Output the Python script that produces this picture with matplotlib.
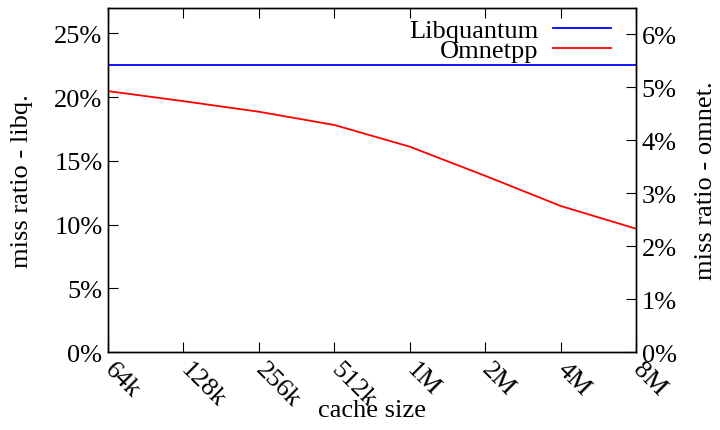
import matplotlib
matplotlib.use("Agg")
import matplotlib.pyplot as plt
from matplotlib.ticker import FuncFormatter

sizes = ["64k", "128k", "256k", "512k", "1M", "2M", "4M", "8M"]
libquantum = [22.5, 22.5, 22.5, 22.5, 22.5, 22.5, 22.5, 22.5]
omnetpp = [4.93, 4.74, 4.54, 4.29, 3.88, 3.33, 2.76, 2.33]

plt.rcParams["font.family"] = ["Liberation Serif", "DejaVu Serif"]
plt.rcParams["font.size"] = 19

fig = plt.figure(figsize=(7.2, 4.31), dpi=100)
ax = fig.add_axes([108 / 720, 1 - 353 / 431, 528 / 720, 344 / 431])
ax2 = ax.twinx()

x = list(range(len(sizes)))
l1, = ax.plot(x, libquantum, color="#0000ff", lw=1.3, label="Libquantum")
l2, = ax2.plot(x, omnetpp, color="#ff0000", lw=1.3, label="Omnetpp")

ax.set_xlim(0, len(sizes) - 1)
ax.set_ylim(0, 27)
ax2.set_ylim(0, 6.5)
ax.set_yticks([0, 5, 10, 15, 20, 25])
ax2.set_yticks([0, 1, 2, 3, 4, 5, 6])
pct = FuncFormatter(lambda v, p: f"{v:.0f}%")
ax.yaxis.set_major_formatter(pct)
ax2.yaxis.set_major_formatter(pct)

ax.set_xticks(x)
ax.set_xticklabels(sizes, rotation=-45, ha="left", va="center", rotation_mode="anchor")
ax.tick_params(axis="x", direction="in", length=7, top=True, pad=10)
ax.tick_params(axis="y", direction="in", length=7, right=False, pad=4)
ax2.tick_params(axis="y", direction="in", length=7, pad=4)

ax.set_xlabel("cache size", labelpad=-9)
ax.set_ylabel("miss ratio - libq.", labelpad=15)
ax2.set_ylabel("miss ratio - omnet.", labelpad=13)

for a in (ax, ax2):
    for s in a.spines.values():
        s.set_linewidth(1.0)

ax2.legend([l1, l2], ["Libquantum", "Omnetpp"], loc="upper right", frameon=False,
           markerfirst=False, handlelength=2.2, labelspacing=-0.12,
           borderaxespad=0.0, handletextpad=0.55, bbox_to_anchor=(0.973, 1.0))

fig.savefig("out.png", dpi=100)
